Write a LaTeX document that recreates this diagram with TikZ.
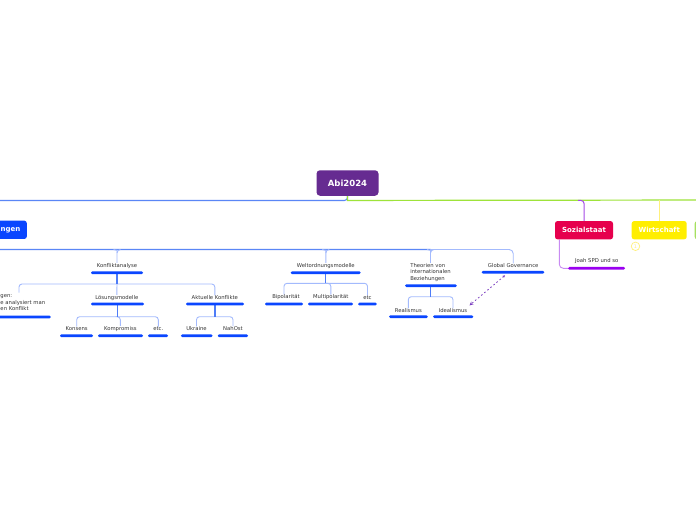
\documentclass[tikz,border=0pt]{standalone}
\usepackage{fontspec}
\setmainfont{DejaVu Sans}
\usetikzlibrary{backgrounds,calc,arrows.meta}
\definecolor{rootc}{HTML}{662B91}
\definecolor{bblue}{HTML}{0A46FF}
\definecolor{mblue}{HTML}{5A86F6}
\definecolor{lblue}{HTML}{A3BAFD}
\definecolor{lime}{HTML}{9EE33A}
\definecolor{sozc}{HTML}{E6004D}
\definecolor{vio}{HTML}{9A00F0}
\definecolor{lvio}{HTML}{C88BF2}
\definecolor{mvio}{HTML}{A54BE6}
\definecolor{yel}{HTML}{FFEE00}
\definecolor{lyel}{HTML}{FFF07C}
\definecolor{lgreen}{HTML}{A6E060}
\definecolor{txt}{HTML}{333333}
\definecolor{relc}{HTML}{7A3DC0}
\begin{document}
\begin{tikzpicture}[x=1pt,y=-1pt,
 lbl/.style={font=\fontsize{5.3}{6.6}\selectfont, text=txt, inner sep=0pt},
 ubar/.style={fill=bblue, inner sep=0pt, minimum height=2.7pt, rounded corners=1.3pt},
 topic/.style={font=\bfseries\fontsize{7}{8}\selectfont, text=white, inner sep=0pt, rounded corners=2.5pt, minimum height=18.3pt},
 cc/.style={draw=lblue, line width=0.9pt, rounded corners=3pt},
 mc/.style={draw=mblue, line width=1.1pt, rounded corners=3pt},
 vc/.style={draw=mblue!85!bblue, line width=1.1pt},
]
\useasboundingbox (0,0) rectangle (696,520);
\clip (0,0) rectangle (696,520);

% root
\node[fill=rootc, text=white, font=\bfseries\fontsize{8.5}{10}\selectfont, rounded corners=3.5pt,
      minimum width=62pt, minimum height=25.5pt, inner sep=0pt] (root) at (347.5,183) {Abi2024};

% main topics
\node[topic, fill=bblue, anchor=east, minimum width=90pt, text width=77pt, align=right, inner xsep=6.5pt] (ib) at (27,229.8) {ngen};
\node[topic, fill=sozc, minimum width=58pt] (soz) at (584,230.2) {Sozialstaat};
\node[topic, fill=yel, minimum width=55pt] (wir) at (659.2,230.2) {Wirtschaft};
\node[topic, fill=lgreen, anchor=west, minimum width=40pt] (more) at (694.5,230.2) {};
\node[circle, draw=lyel, fill=white, line width=0.7pt, minimum size=8.5pt, inner sep=0pt,
      text=lyel, font=\fontsize{5}{6}\selectfont] (badge) at (635.5,246.3) {1};

% level 2
\node[lbl] (ka) at (117,265.7) {Konfliktanalyse};
\node[ubar, minimum width=52pt] (kab) at (117,272.7) {};
\node[lbl] (wo) at (325.8,265.7) {Weltordnungsmodelle};
\node[ubar, minimum width=70pt] (wob) at (325.7,272.7) {};
\node[lbl, align=left] (th) at (430.5,272.3) {Theorien von\\internationalen\\Beziehungen};
\node[ubar, minimum width=51.7pt] (thb) at (430.9,285.7) {};
\node[lbl] (gg) at (513.2,265.5) {Global Governance};
\node[ubar, minimum width=62.6pt] (ggb) at (513,272.3) {};

% Konfliktanalyse children
\node[lbl, anchor=north west, align=left] (lq) at (0.3,294.3) {gen:\\e analysiert man\\en Konflikt};
\node[ubar, anchor=east, minimum width=80pt] (lqb) at (51,317) {};
\coordinate (lqtop) at (19,292.5);
\node[lbl] (lm) at (116.8,297.6) {Lösungsmodelle};
\node[ubar, minimum width=53pt] (lmb) at (117.5,304) {};
\node[lbl] (ak) at (214.8,297.6) {Aktuelle Konflikte};
\node[ubar, minimum width=58pt] (akb) at (215,304) {};

\node[lbl] (kon) at (76.7,328.7) {Konsens};
\node[ubar, minimum width=33pt] (konb) at (76.5,335.7) {};
\node[lbl] (kom) at (120.3,328.7) {Kompromiss};
\node[ubar, minimum width=45pt] (komb) at (120.5,335.7) {};
\node[lbl] (etc1) at (158.3,328.7) {etc.};
\node[ubar, minimum width=20pt] (etc1b) at (158,335.7) {};
\node[lbl] (ukr) at (196.5,328.7) {Ukraine};
\node[ubar, minimum width=31.7pt] (ukrb) at (196.8,335.7) {};
\node[lbl] (nah) at (233,328.7) {NahOst};
\node[ubar, minimum width=30.3pt] (nahb) at (232.9,335.7) {};

% Weltordnungsmodelle children
\node[lbl] (bip) at (286,297.4) {Bipolarität};
\node[ubar, minimum width=38pt] (bipb) at (284,304) {};
\node[lbl] (mul) at (330.8,297.4) {Multipolarität};
\node[ubar, minimum width=45pt] (mulb) at (330.5,304) {};
\node[lbl] (etc2) at (367.5,297.4) {etc};
\node[ubar, minimum width=18.7pt] (etc2b) at (367.4,304) {};

% Theorien children
\node[lbl] (rea) at (408.3,310.7) {Realismus};
\node[ubar, minimum width=38.7pt] (reab) at (408.4,316.7) {};
\node[lbl] (ide) at (453,310.7) {Idealismus};
\node[ubar, minimum width=40.3pt] (ideb) at (453.2,316.7) {};

% Sozialstaat child
\node[lbl] (joah) at (596.7,261.3) {Joah SPD und so};
\node[fill=vio, inner sep=0pt, minimum height=2.7pt, minimum width=57pt, rounded corners=1.3pt] (joahb) at (596.5,268.3) {};

\begin{pgfonlayer}{background}
\fill[white] (0,0) rectangle (696,520);
% root connectors
\draw[mc] (root.south) -- ++(0,4.5) -| (ib.north);
\draw[draw=lime, line width=1.2pt] (root.south) -- ++(0,4.5) -- (720,200);
\draw[draw=mvio, line width=1pt, rounded corners=3pt] ($(soz.north |- root.south)+(-6,4.5)$) -| (soz.north);
\draw[draw=lyel, line width=0.9pt] (wir.north |- 0,200) -- (wir.north);
% ib children
\draw[mc] (ib.south) |- (th.north |- 0,249.5);
\draw[cc, rounded corners=4pt] (th.north |- 0,249.5) -| (gg.north);
\foreach \n in {ka,wo,th}{
  \draw[cc] ($(\n.north |- 0,249.5)+(-3.5,0)$) to[out=0,in=90] ($(\n.north |- 0,249.5)+(0,3.5)$) -- (\n.north);
  \draw[cc] ($(\n.north |- 0,249.5)+(3.5,0)$) to[out=180,in=90] ($(\n.north |- 0,249.5)+(0,3.5)$);
}
% Konfliktanalyse
\draw[cc] (lqtop) |- (kab.center |- 0,284) -| (ak.north);
\draw[vc] (kab.center) -- (kab.center |- 0,284);
\draw[cc] (kab.center |- 0,284) -- (lm.north);
\draw[cc] (kon.north) |- (lmb.center |- 0,316.7) -| (etc1.north);
\draw[cc] (lmb.center |- 0,316.7) -| (kom.north);
\draw[vc] (lmb.center) -- (lmb.center |- 0,316.7);
\draw[cc] (ukr.north) |- (akb.center |- 0,316.7) -| (nah.north);
\draw[vc] (akb.center) -- (akb.center |- 0,316.7);
% Weltordnung
\draw[cc] (bip.north -| bipb.center) |- (wob.center |- 0,283.3) -| (etc2.north);
\draw[cc] (wob.center |- 0,283.3) -| (mul.north);
\draw[vc] (wob.center) -- (wob.center |- 0,283.3);
% Theorien
\draw[cc] (rea.north) |- (thb.center |- 0,296.7) -| (ide.north);
\draw[vc] (thb.center) -- (thb.center |- 0,296.7);
% Sozialstaat child
\draw[draw=lvio, line width=0.9pt, rounded corners=4pt] ($(soz.south west)+(4.5,0)$) |- (joahb.west);
\end{pgfonlayer}

% relationship
\draw[relc, line width=0.8pt, dash pattern=on 1.6pt off 2.4pt,
      {Stealth[length=2.5pt,width=2.5pt]}-{Stealth[length=4pt,width=3.5pt]}]
      ($(ggb.south)+(-8,1.5)$) -- ($(ide.north east)+(2,-3)$);
\end{tikzpicture}
\end{document}
